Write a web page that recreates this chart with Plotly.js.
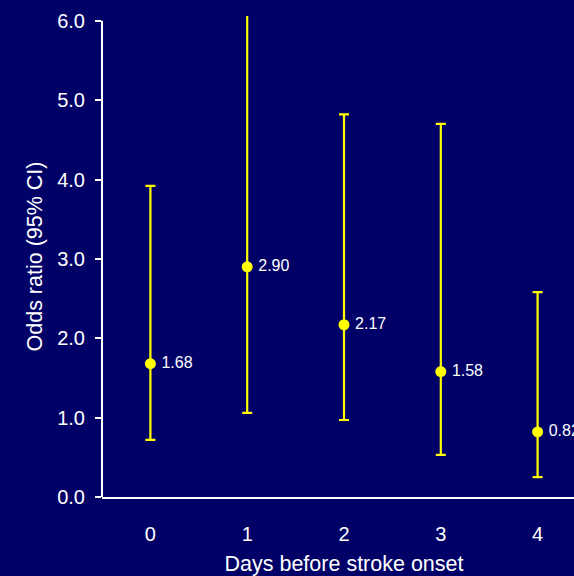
<!DOCTYPE html>
<html><head><meta charset="utf-8">
<script src="https://cdn.plot.ly/plotly-3.0.1.min.js"></script>
<style>html,body{margin:0;padding:0;overflow:hidden;background:#000066;}#chart{width:586px;height:576px;}</style>
</head><body><div id="chart"></div>
<script>
const days = [0, 1, 2, 3, 4];
const oddsRatio = [1.68, 2.90, 2.17, 1.58, 0.82];
const ciLower = [0.72, 1.06, 0.97, 0.53, 0.25];
const ciUpper = [3.92, 6.60, 4.82, 4.70, 2.58];
const labels = oddsRatio.map(v => v.toFixed(2));

const trace = {
  x: days, y: oddsRatio, type: 'scatter', mode: 'markers+text',
  text: labels.map(s => '\u2009' + s), textposition: 'middle right',
  textfont: {family: 'Liberation Sans, Arial, sans-serif', size: 16, color: '#ffffff'},
  marker: {color: '#ffff00', size: 11},
  error_y: {type: 'data', symmetric: false,
    array: ciUpper.map((u, i) => u - oddsRatio[i]),
    arrayminus: oddsRatio.map((v, i) => v - ciLower[i]),
    color: '#ffff00', thickness: 2.2, width: 5},
  cliponaxis: false, hoverinfo: 'skip'
};
const layout = {
  width: 586, height: 576,
  paper_bgcolor: '#000066', plot_bgcolor: '#000066',
  margin: {l: 102, r: 0, t: 16, b: 79},
  font: {family: 'Liberation Sans, Arial, sans-serif', color: '#ffffff', size: 20},
  showlegend: false,
  xaxis: {range: [-0.5, 4.5], tickvals: days, ticktext: days.map(String),
    showgrid: false, zeroline: false, showline: true, linecolor: '#ffffff', linewidth: 2,
    ticks: '', ticklabelstandoff: 18, tickfont: {size: 20},
    title: {text: 'Days before stroke onset', font: {size: 21.5}, standoff: 12}},
  yaxis: {range: [0, 6.06], tickvals: [0,1,2,3,4,5,6], ticktext: ['0.0','1.0','2.0','3.0','4.0','5.0','6.0'],
    showgrid: false, zeroline: false, showline: false,
    ticks: 'outside', ticklen: 6, tickwidth: 2, tickcolor: '#ffffff', tickfont: {size: 20},
    ticklabelstandoff: 6,
    title: {text: 'Odds ratio (95% CI)', font: {size: 21.5}, standoff: 8}},
  shapes: [{type: 'line', xref: 'paper', yref: 'y', x0: 0, x1: 0, y0: 0, y1: 6,
    line: {color: '#ffffff', width: 2}}]
};
Plotly.newPlot('chart', [trace], layout, {displayModeBar: false, staticPlot: true});
</script></body></html>
